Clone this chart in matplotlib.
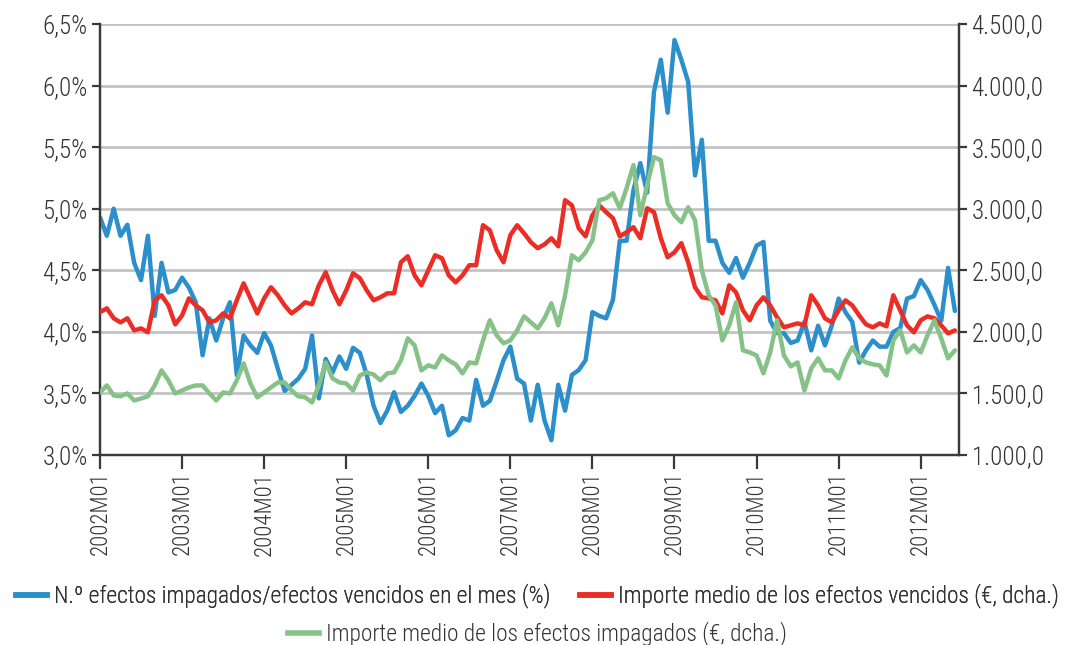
import matplotlib
matplotlib.use("Agg")
import matplotlib.pyplot as plt
from matplotlib.ticker import FixedLocator, FuncFormatter
from matplotlib.lines import Line2D

plt.rcParams['font.family'] = ['Roboto Condensed', 'Liberation Sans', 'DejaVu Sans']
plt.rcParams['font.weight'] = 'light'

years = list(range(2002, 2013))
tick_labels = [f"{y}M01" for y in years]

# N.º efectos impagados / efectos vencidos en el mes (%) – monthly, 2002M01..2012M06
ratio_pct = [
    4.93, 4.78, 5.00, 4.78, 4.87, 4.56, 4.42, 4.78, 4.13, 4.56, 4.32, 4.34,
    4.44, 4.36, 4.24, 3.81, 4.11, 3.93, 4.11, 4.24, 3.65, 3.97, 3.89, 3.83,
    3.99, 3.89, 3.70, 3.52, 3.57, 3.62, 3.70, 3.97, 3.46, 3.78, 3.67, 3.80,
    3.70, 3.87, 3.83, 3.65, 3.40, 3.26, 3.36, 3.51, 3.35, 3.40, 3.48, 3.58,
    3.48, 3.34, 3.40, 3.16, 3.20, 3.30, 3.28, 3.61, 3.40, 3.44, 3.60, 3.77,
    3.88, 3.62, 3.58, 3.28, 3.57, 3.28, 3.12, 3.57, 3.36, 3.65, 3.69, 3.77,
    4.16, 4.13, 4.11, 4.26, 4.74, 4.74, 5.15, 5.37, 5.13, 5.95, 6.21, 5.78,
    6.37, 6.21, 6.03, 5.27, 5.56, 4.74, 4.74, 4.56, 4.48, 4.60, 4.44, 4.56,
    4.70, 4.73, 4.09, 3.99, 3.99, 3.91, 3.93, 4.08, 3.85, 4.05, 3.89, 4.05,
    4.27, 4.16, 4.08, 3.75, 3.85, 3.93, 3.88, 3.88, 4.00, 4.03, 4.27, 4.29,
    4.42, 4.34, 4.22, 4.09, 4.52, 4.17,
]

# Importe medio de los efectos vencidos (€, dcha.)
importe_vencidos = [
    2160, 2191, 2110, 2077, 2110, 2012, 2028, 1996, 2256, 2297, 2215, 2061,
    2134, 2272, 2215, 2175, 2077, 2094, 2150, 2110, 2256, 2394, 2272, 2150,
    2272, 2362, 2297, 2215, 2150, 2191, 2240, 2224, 2378, 2484, 2337, 2224,
    2337, 2476, 2435, 2337, 2256, 2281, 2313, 2313, 2565, 2614, 2459, 2378,
    2500, 2622, 2598, 2459, 2402, 2459, 2541, 2541, 2866, 2825, 2663, 2565,
    2785, 2866, 2801, 2728, 2679, 2711, 2760, 2695, 3069, 3028, 2841, 2776,
    2947, 3028, 2972, 2923, 2776, 2809, 2850, 2760, 3004, 2972, 2760, 2606,
    2646, 2720, 2565, 2362, 2281, 2272, 2256, 2150, 2378, 2321, 2175, 2094,
    2215, 2281, 2215, 2118, 2037, 2053, 2069, 2053, 2297, 2215, 2110, 2077,
    2175, 2256, 2215, 2134, 2061, 2037, 2069, 2045, 2297, 2175, 2053, 1996,
    2094, 2126, 2110, 2053, 1988, 2012,
]

# Importe medio de los efectos impagados (€, dcha.)
importe_impagados = [
    1508, 1565, 1484, 1476, 1500, 1443, 1459, 1476, 1565, 1687, 1606, 1500,
    1524, 1549, 1565, 1565, 1500, 1443, 1508, 1500, 1606, 1744, 1581, 1468,
    1508, 1549, 1589, 1589, 1524, 1476, 1468, 1427, 1565, 1752, 1622, 1589,
    1581, 1524, 1646, 1671, 1654, 1606, 1663, 1671, 1768, 1947, 1890, 1687,
    1728, 1711, 1809, 1768, 1736, 1663, 1752, 1744, 1931, 2094, 1972, 1907,
    1931, 2012, 2126, 2077, 2028, 2110, 2232, 2053, 2297, 2622, 2581, 2646,
    2744, 3069, 3085, 3126, 3004, 3167, 3354, 2947, 3191, 3419, 3394, 3045,
    2947, 2890, 3012, 2907, 2500, 2297, 2215, 1931, 2053, 2240, 1850, 1833,
    1809, 1663, 1833, 2094, 1809, 1720, 1752, 1524, 1703, 1785, 1687, 1687,
    1622, 1768, 1874, 1785, 1752, 1736, 1728, 1646, 1931, 2012, 1833, 1890,
    1833, 1972, 2094, 1947, 1785, 1850,
]

left_ticks = [3.0, 3.5, 4.0, 4.5, 5.0, 5.5, 6.0, 6.5]
right_ticks = [1000, 1500, 2000, 2500, 3000, 3500, 4000, 4500]

labels = [
    "N.º efectos impagados/efectos vencidos en el mes (%)",
    "Importe medio de los efectos vencidos (€, dcha.)",
    "Importe medio de los efectos impagados (€, dcha.)",
]
colors = ["#2a8fca", "#ec2d26", "#86c287"]

n = len(ratio_pct)
x = list(range(n))
tick_pos = [12 * i for i in range(len(years))]

fig = plt.figure(figsize=(10.75, 6.45), dpi=100)
ax = fig.add_axes([100 / 1075, 1 - 455 / 645, 859 / 1075, 431 / 645])
ax2 = ax.twinx()

lw = 3.2
ax.plot(x, ratio_pct, color=colors[0], lw=lw, solid_joinstyle='round', solid_capstyle='round', zorder=3)
ax2.plot(x, importe_vencidos, color=colors[1], lw=lw, solid_joinstyle='round', solid_capstyle='round', zorder=3)
ax2.plot(x, importe_impagados, color=colors[2], lw=lw, solid_joinstyle='round', solid_capstyle='round', zorder=4)

ax.set_xlim(0, 125.6)
ax.set_ylim(3.0, 6.5)
ax2.set_ylim(1000, 4500)

ax.yaxis.set_major_locator(FixedLocator(left_ticks))
ax2.yaxis.set_major_locator(FixedLocator(right_ticks))
ax.yaxis.set_major_formatter(FuncFormatter(lambda v, p: f"{v:.1f}".replace('.', ',') + "%"))


def eur_fmt(v, p):
    s = f"{v:,.1f}"
    return s.replace(',', 'X').replace('.', ',').replace('X', '.')


ax2.yaxis.set_major_formatter(FuncFormatter(eur_fmt))

ax.set_xticks(tick_pos)
ax.set_xticklabels(tick_labels, rotation=90)

ax.grid(axis='y', color='#c3c3c6', lw=2.0, zorder=0)
ax.set_axisbelow(True)

spine_c = '#3a3a3a'
for a in (ax, ax2):
    a.spines['top'].set_visible(False)
    for s in ('left', 'right', 'bottom'):
        a.spines[s].set_color(spine_c)
        a.spines[s].set_linewidth(1.6)

ax.tick_params(axis='y', direction='out', length=6, width=1.6, color=spine_c,
               labelsize=18, labelcolor='#333333', pad=3)
ax2.tick_params(axis='y', direction='out', length=6, width=1.6, color=spine_c,
                labelsize=18, labelcolor='#333333', pad=3)
ax.tick_params(axis='x', direction='out', length=10, width=1.6, color=spine_c,
               labelsize=16.5, labelcolor='#333333', pad=2)

handles = [Line2D([], [], color=c, lw=4) for c in colors]
leg_fs = 16.8
leg1 = fig.legend(handles[:2], labels[:2], loc='center', bbox_to_anchor=(0.5, 1 - 596 / 645),
                  ncol=2, frameon=False, fontsize=leg_fs, handlelength=1.3, handletextpad=0.3,
                  columnspacing=1.3, labelcolor='#333333')
leg2 = fig.legend(handles[2:], labels[2:], loc='center', bbox_to_anchor=(0.5, 1 - 634 / 645),
                  ncol=1, frameon=False, fontsize=leg_fs, handlelength=1.3, handletextpad=0.3,
                  labelcolor='#333333')
fig.add_artist(leg1)

fig.savefig("out.png", dpi=100)
